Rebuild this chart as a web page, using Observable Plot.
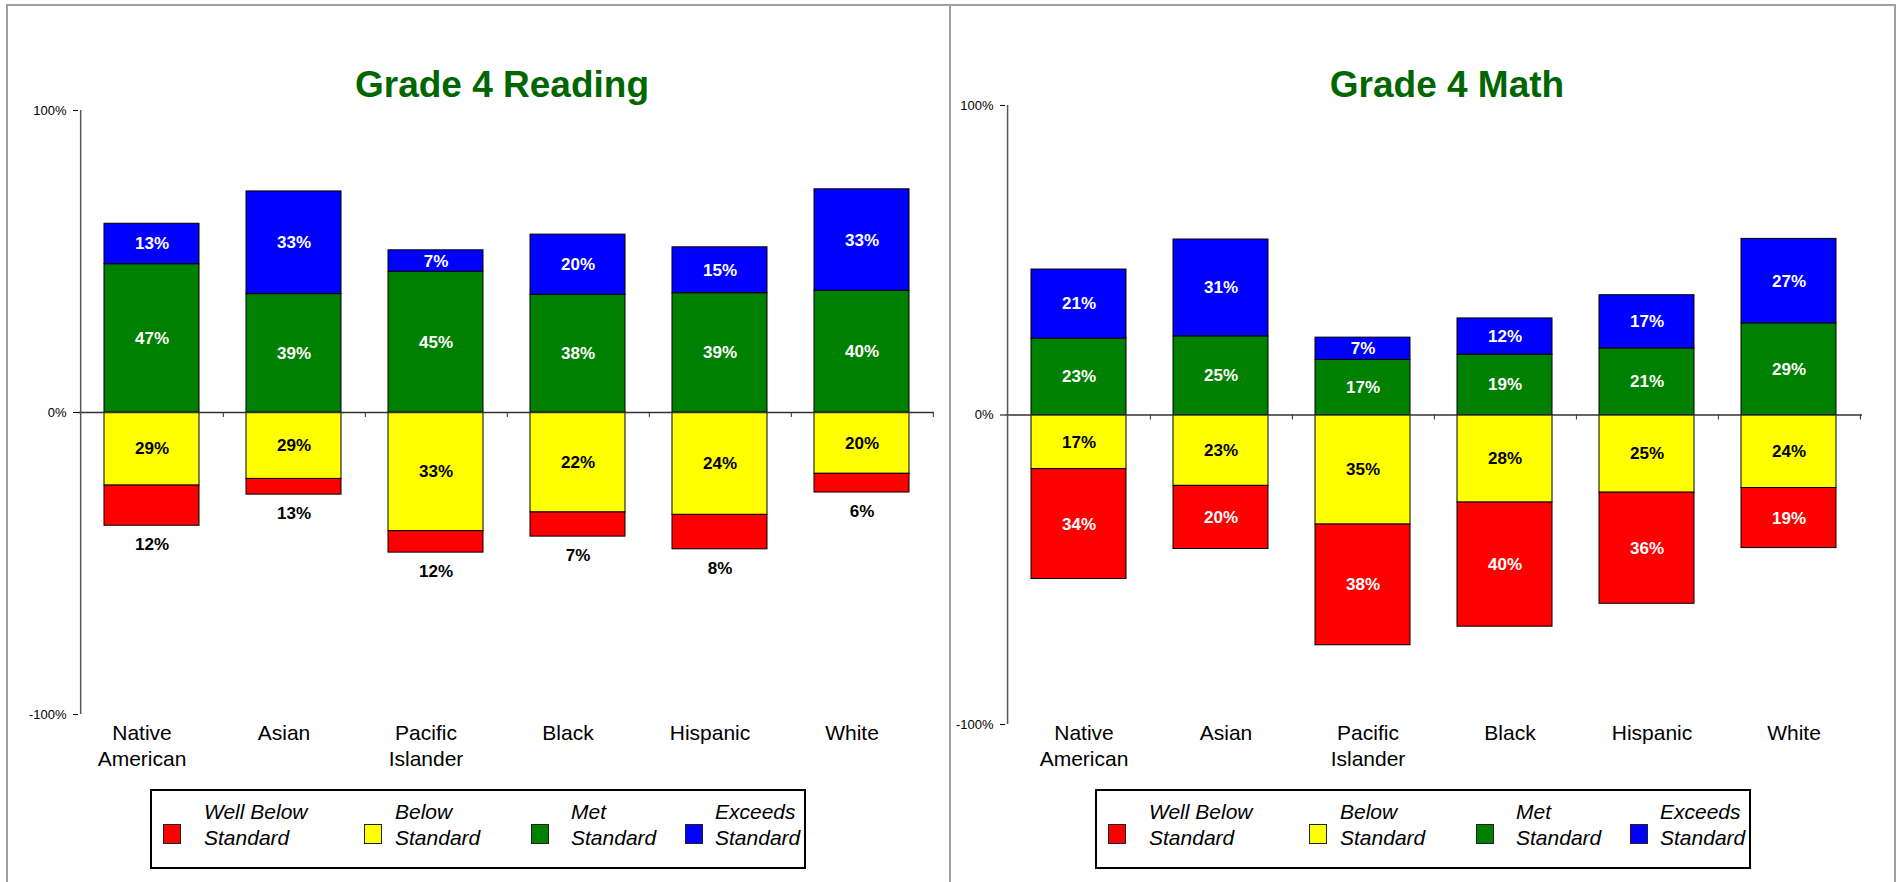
<!DOCTYPE html>
<html><head><meta charset="utf-8">
<script src="https://cdn.jsdelivr.net/npm/d3@7"></script>
<script src="https://cdn.jsdelivr.net/npm/@observablehq/plot@0.6"></script>
<style>
html,body{margin:0;padding:0;background:#fff;}
body{width:1902px;height:882px;position:relative;overflow:hidden;font-family:"Liberation Sans",Arial,sans-serif;}
.bline{position:absolute;background:#a0a0a0;}
.title{position:absolute;font-weight:bold;font-size:37px;color:#006600;transform:translateX(-50%);white-space:nowrap;line-height:1;}
.chart{position:absolute;}
.legend{position:absolute;border:2px solid #000;box-sizing:border-box;width:656px;height:80px;background:#fff;}
.legend .sw{position:absolute;width:18px;height:20px;box-sizing:border-box;border:1px solid #222;top:33px;}
.legend .tx{position:absolute;font-style:italic;font-size:21px;line-height:26px;white-space:nowrap;color:#000;top:8px;}
</style></head><body>
<div class="bline" style="left:6px;top:4px;width:1890px;height:2px"></div>
<div class="bline" style="left:6px;top:4px;width:2px;height:878px"></div>
<div class="bline" style="left:949px;top:4px;width:2px;height:878px"></div>
<div class="bline" style="left:1894px;top:4px;width:2px;height:878px"></div>
<div class="title" id="t1" style="left:502px;top:66px"></div>
<div class="title" id="t2" style="left:1447px;top:66px"></div>
<div class="chart" id="c1" style="left:8px;top:100px"></div>
<div class="chart" id="c2" style="left:955px;top:95px"></div>
<div class="legend" id="l1" style="left:150px;top:789px"></div>
<div class="legend" id="l2" style="left:1095px;top:789px"></div>
<script>
// ---- data ----
const titles = ["Grade 4 Reading", "Grade 4 Math"];
const groups = ["Native American", "Asian", "Pacific Islander", "Black", "Hispanic", "White"];
const groupLabels = ["Native\nAmerican", "Asian", "Pacific\nIslander", "Black", "Hispanic", "White"];
const levelNames = ["Well Below Standard", "Below Standard", "Met Standard", "Exceeds Standard"];
const legendLines = [["Well Below", "Standard"], ["Below", "Standard"], ["Met", "Standard"], ["Exceeds", "Standard"]];
const levelColors = ["#ff0000", "#ffff00", "#008000", "#0000ff"];

// Grade 4 Reading: bar lengths as drawn (percent)
const readingExceeds   = [13.4, 34.0, 7.1, 19.9, 15.2, 33.6];
const readingMet       = [49.1, 39.2, 46.6, 39.0, 39.5, 40.3];
const readingBelow     = [24.2, 22.0, 39.3, 33.1, 33.9, 20.3];
const readingWellBelow = [13.3, 5.2, 7.1, 8.0, 11.4, 6.2];
// Grade 4 Reading: label texts as printed
const readingExceedsLabel   = [13, 33, 7, 20, 15, 33];
const readingMetLabel       = [47, 39, 45, 38, 39, 40];
const readingBelowLabel     = [29, 29, 33, 22, 24, 20];
const readingWellBelowLabel = [12, 13, 12, 7, 8, 6];

// Grade 4 Math: bar lengths as drawn (percent)
const mathExceeds   = [22.3, 31.3, 7.2, 11.7, 17.2, 27.3];
const mathMet       = [24.7, 25.4, 17.8, 19.5, 21.5, 29.6];
const mathBelow     = [17.5, 22.9, 35.4, 28.3, 25.1, 23.6];
const mathWellBelow = [35.5, 20.4, 39.0, 40.1, 35.9, 19.4];
// Grade 4 Math: label texts as printed
const mathExceedsLabel   = [21, 31, 7, 12, 17, 27];
const mathMetLabel       = [23, 25, 17, 19, 21, 29];
const mathBelowLabel     = [17, 23, 35, 28, 25, 24];
const mathWellBelowLabel = [34, 20, 38, 40, 36, 19];

const yTicks = [-100, 0, 100];

// ---- build ----
function buildRows(ex, met, bel, wb, exL, metL, belL, wbL) {
  const rows = [];
  groups.forEach((g, i) => {
    rows.push({group: g, level: levelNames[1], value: -bel[i], label: belL[i]});
    rows.push({group: g, level: levelNames[0], value: -wb[i], label: wbL[i]});
    rows.push({group: g, level: levelNames[2], value: met[i], label: metL[i]});
    rows.push({group: g, level: levelNames[3], value: ex[i], label: exL[i]});
  });
  return rows;
}

function makeChart(rows, o) {
  const step = (o.width - o.ml - o.mr) / groups.length;
  const isWhite = d => d.level === levelNames[2] || d.level === levelNames[3] || (d.level === levelNames[0] && !o.outside);
  const isBlack = d => d.level === levelNames[1];
  const isOutside = d => d.level === levelNames[0] && o.outside;
  const lab = f => d => f(d) ? d.label + "%" : null;
  const txt = {fontWeight: "bold", fontSize: 17};
  return Plot.plot({
    width: o.width, height: o.height,
    marginTop: o.mt, marginRight: o.mr, marginBottom: o.mb, marginLeft: o.ml,
    style: {fontFamily: "'Liberation Sans', Arial, sans-serif", fontSize: "13px", color: "#000", background: "transparent", overflow: "visible"},
    x: {type: "band", domain: groups, paddingInner: 0.334, paddingOuter: 0.167, axis: null},
    y: {domain: [-100, 100], ticks: yTicks, tickFormat: d => d + "%", tickSize: 5, tickPadding: 7, label: null},
    color: {domain: levelNames, range: levelColors},
    marks: [
      Plot.barY(rows, Plot.stackY({x: "group", y: "value", fill: "level", stroke: "#000", strokeWidth: 1})),
      Plot.ruleY([0], {stroke: "#333", strokeWidth: 1.5}),
      Plot.ruleX([groups[0]], {x: d => d, y1: () => -100, y2: () => 100, dx: -step / 2, stroke: "#555", strokeWidth: 1.5}),
      Plot.ruleX(groups, {x: d => d, y1: () => 0, y2: () => 0, insetBottom: -5, dx: step / 2, stroke: "#333", strokeWidth: 1}),
      Plot.text(rows, Plot.stackY({x: "group", y: "value", text: lab(isWhite), fill: "#fff", ...txt})),
      Plot.text(rows, Plot.stackY({x: "group", y: "value", text: lab(isBlack), fill: "#000", ...txt})),
      Plot.text(rows, Plot.stackY2({x: "group", y: "value", text: lab(isOutside), fill: "#000", dy: 19, ...txt})),
      Plot.text(groups, {x: d => d, y: () => -100, text: (d, i) => groupLabels[i], lineAnchor: "top", dx: o.catDx, dy: o.catDy, fontSize: 21, lineHeight: 1.24, fill: "#000"})
    ]
  });
}

function makeLegend(el) {
  const swX = [11, 212, 379, 533];
  const txX = [52, 243, 419, 563];
  levelNames.forEach((n, i) => {
    const sw = document.createElement("div");
    sw.className = "sw";
    sw.style.left = swX[i] + "px";
    sw.style.background = levelColors[i];
    el.appendChild(sw);
    const tx = document.createElement("div");
    tx.className = "tx";
    tx.style.left = txX[i] + "px";
    tx.innerHTML = legendLines[i].join("<br>");
    el.appendChild(tx);
  });
}

document.getElementById("t1").textContent = titles[0];
document.getElementById("t2").textContent = titles[1];

const readingRows = buildRows(readingExceeds, readingMet, readingBelow, readingWellBelow,
  readingExceedsLabel, readingMetLabel, readingBelowLabel, readingWellBelowLabel);
const mathRows = buildRows(mathExceeds, mathMet, mathBelow, mathWellBelow,
  mathExceedsLabel, mathMetLabel, mathBelowLabel, mathWellBelowLabel);

document.getElementById("c1").appendChild(makeChart(readingRows,
  {width: 938, height: 678, mt: 10, mr: 12, mb: 64, ml: 70, catDx: -10, catDy: 7, outside: true}));
document.getElementById("c2").appendChild(makeChart(mathRows,
  {width: 940, height: 684, mt: 10, mr: 33, mb: 55, ml: 50, catDx: 5, catDy: -3, outside: false}));

makeLegend(document.getElementById("l1"));
makeLegend(document.getElementById("l2"));
</script>
</body></html>
